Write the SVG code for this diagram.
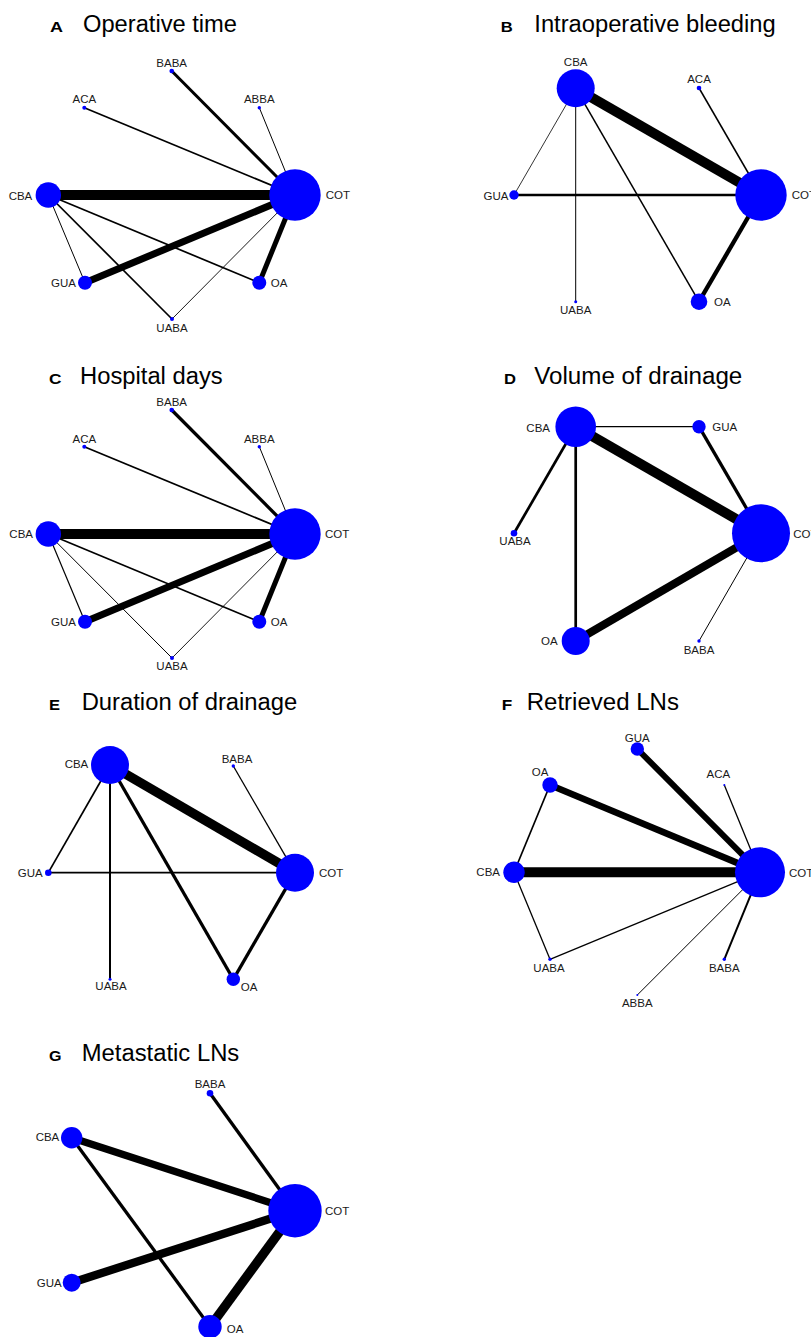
<svg xmlns="http://www.w3.org/2000/svg" width="811" height="1337" viewBox="0 0 811 1337">
<style>
.bg{fill:#ffffff}
.nd{fill:#0000ff}
.lb{font-family:"Liberation Sans",Arial,sans-serif;font-size:11.5px;fill:#1a1a1a}
.m{text-anchor:middle}
.e{text-anchor:end}
.ttl{font-family:"Liberation Sans",Arial,sans-serif;font-size:23.5px;fill:#000}
.let{font-family:"Liberation Sans",Arial,sans-serif;font-size:15px;font-weight:bold;fill:#000}
.cn line{stroke:#000;stroke-linecap:butt}
</style>
<rect class="bg" x="0" y="0" width="811" height="1337"/>

<!-- Panel A -->
<g id="panelA">
<text class="let" x="50" y="32" textLength="13" lengthAdjust="spacingAndGlyphs">A</text>
<text class="ttl" x="83" y="32" textLength="154" lengthAdjust="spacingAndGlyphs">Operative time</text>
<g id="A-connectors" class="cn">
<line x1="48.3" y1="195" x2="295" y2="195" stroke-width="10"/>
<line x1="85" y1="282.7" x2="295" y2="195" stroke-width="7"/>
<line x1="259.3" y1="282.7" x2="295" y2="195" stroke-width="5"/>
<line x1="171.7" y1="71" x2="295" y2="195" stroke-width="3"/>
<line x1="84.3" y1="107.7" x2="295" y2="195" stroke-width="1.7"/>
<line x1="259.3" y1="107.7" x2="295" y2="195" stroke-width="1"/>
<line x1="48.3" y1="195" x2="85" y2="282.7" stroke-width="1"/>
<line x1="48.3" y1="195" x2="172" y2="319" stroke-width="1.7"/>
<line x1="48.3" y1="195" x2="259.3" y2="282.7" stroke-width="1.7"/>
<line x1="172" y1="319" x2="295" y2="195" stroke-width="0.9"/>
</g>
<g id="A-BABA"><circle class="nd" cx="171.7" cy="71" r="2.3"/><text class="lb m" x="171.7" y="67">BABA</text></g>
<g id="A-ACA"><circle class="nd" cx="84.3" cy="107.7" r="2"/><text class="lb m" x="84.3" y="103">ACA</text></g>
<g id="A-ABBA"><circle class="nd" cx="259.3" cy="107.7" r="1.7"/><text class="lb m" x="259.3" y="103">ABBA</text></g>
<g id="A-CBA"><circle class="nd" cx="48.3" cy="195" r="12.7"/><text class="lb e" x="32.3" y="199.5">CBA</text></g>
<g id="A-COT"><circle class="nd" cx="295" cy="195" r="25.7"/><text class="lb" x="325.7" y="199">COT</text></g>
<g id="A-GUA"><circle class="nd" cx="85" cy="282.7" r="7"/><text class="lb e" x="76" y="287">GUA</text></g>
<g id="A-OA"><circle class="nd" cx="259.3" cy="282.7" r="7"/><text class="lb" x="270.7" y="287">OA</text></g>
<g id="A-UABA"><circle class="nd" cx="172" cy="319" r="2"/><text class="lb m" x="172" y="331.5">UABA</text></g>
</g>

<!-- Panel B -->
<g id="panelB">
<text class="let" x="500.7" y="32" textLength="12" lengthAdjust="spacingAndGlyphs">B</text>
<text class="ttl" x="534.3" y="32" textLength="241.4" lengthAdjust="spacingAndGlyphs">Intraoperative bleeding</text>
<g id="B-connectors" class="cn">
<line x1="575.7" y1="88.3" x2="761" y2="195" stroke-width="10"/>
<line x1="514" y1="195" x2="761" y2="195" stroke-width="2.7"/>
<line x1="699" y1="301.7" x2="761" y2="195" stroke-width="4.3"/>
<line x1="699" y1="88" x2="761" y2="195" stroke-width="1.5"/>
<line x1="575.7" y1="88.3" x2="514" y2="195" stroke-width="0.8"/>
<line x1="575.7" y1="88.3" x2="575.7" y2="301.7" stroke-width="1"/>
<line x1="575.7" y1="88.3" x2="699" y2="301.7" stroke-width="1.5"/>
</g>
<g id="B-CBA"><circle class="nd" cx="575.7" cy="88.3" r="19"/><text class="lb m" x="575.7" y="65.7">CBA</text></g>
<g id="B-ACA"><circle class="nd" cx="699" cy="88" r="2.3"/><text class="lb m" x="699" y="83">ACA</text></g>
<g id="B-GUA"><circle class="nd" cx="514" cy="195" r="4.7"/><text class="lb e" x="508.5" y="199.5">GUA</text></g>
<g id="B-COT"><circle class="nd" cx="761" cy="195" r="25.7"/><text class="lb" x="791.7" y="199">COT</text></g>
<g id="B-OA"><circle class="nd" cx="699" cy="301.7" r="8.3"/><text class="lb" x="714" y="306">OA</text></g>
<g id="B-UABA"><circle class="nd" cx="575.7" cy="301.7" r="1.5"/><text class="lb m" x="575.7" y="313.5">UABA</text></g>
</g>

<!-- Panel C -->
<g id="panelC">
<text class="let" x="49" y="383.5" textLength="12.5" lengthAdjust="spacingAndGlyphs">C</text>
<text class="ttl" x="80" y="383.5" textLength="142.7" lengthAdjust="spacingAndGlyphs">Hospital days</text>
<g id="C-connectors" class="cn">
<line x1="48.3" y1="534" x2="295" y2="534" stroke-width="10"/>
<line x1="85" y1="621.7" x2="295" y2="534" stroke-width="7"/>
<line x1="259.3" y1="621.7" x2="295" y2="534" stroke-width="5"/>
<line x1="171.7" y1="410" x2="295" y2="534" stroke-width="3.3"/>
<line x1="84.3" y1="446.7" x2="295" y2="534" stroke-width="1.7"/>
<line x1="259.3" y1="446.7" x2="295" y2="534" stroke-width="1"/>
<line x1="48.3" y1="534" x2="85" y2="621.7" stroke-width="1.2"/>
<line x1="48.3" y1="534" x2="172" y2="658" stroke-width="1"/>
<line x1="48.3" y1="534" x2="259.3" y2="621.7" stroke-width="1.7"/>
<line x1="172" y1="658" x2="295" y2="534" stroke-width="0.9"/>
</g>
<g id="C-BABA"><circle class="nd" cx="171.7" cy="410" r="2.3"/><text class="lb m" x="171.7" y="406">BABA</text></g>
<g id="C-ACA"><circle class="nd" cx="84.3" cy="446.7" r="2"/><text class="lb m" x="84.3" y="442.5">ACA</text></g>
<g id="C-ABBA"><circle class="nd" cx="259.3" cy="446.7" r="1.7"/><text class="lb m" x="259.3" y="442.5">ABBA</text></g>
<g id="C-CBA"><circle class="nd" cx="48.3" cy="534" r="12.7"/><text class="lb e" x="33" y="538">CBA</text></g>
<g id="C-COT"><circle class="nd" cx="295" cy="534" r="25.7"/><text class="lb" x="325" y="538">COT</text></g>
<g id="C-GUA"><circle class="nd" cx="85" cy="621.7" r="7"/><text class="lb e" x="76" y="626">GUA</text></g>
<g id="C-OA"><circle class="nd" cx="259.3" cy="621.7" r="7"/><text class="lb" x="270.7" y="626">OA</text></g>
<g id="C-UABA"><circle class="nd" cx="172" cy="658" r="2"/><text class="lb m" x="172" y="669.5">UABA</text></g>
</g>

<!-- Panel D -->
<g id="panelD">
<text class="let" x="504" y="383.5" textLength="12" lengthAdjust="spacingAndGlyphs">D</text>
<text class="ttl" x="534.3" y="383.5" textLength="208" lengthAdjust="spacingAndGlyphs">Volume of drainage</text>
<g id="D-connectors" class="cn">
<line x1="575.7" y1="426.7" x2="761" y2="533.3" stroke-width="10"/>
<line x1="575.7" y1="641" x2="761" y2="533.3" stroke-width="8"/>
<line x1="699" y1="426.7" x2="761" y2="533.3" stroke-width="3.3"/>
<line x1="575.7" y1="426.7" x2="514" y2="533.3" stroke-width="2.7"/>
<line x1="575.7" y1="426.7" x2="575.7" y2="641" stroke-width="2.7"/>
<line x1="575.7" y1="426.7" x2="699" y2="426.7" stroke-width="1.3"/>
<line x1="699" y1="641" x2="761" y2="533.3" stroke-width="1"/>
</g>
<g id="D-CBA"><circle class="nd" cx="575.7" cy="426.7" r="20.3"/><text class="lb e" x="550" y="432">CBA</text></g>
<g id="D-GUA"><circle class="nd" cx="699" cy="426.7" r="6.7"/><text class="lb" x="712.3" y="431">GUA</text></g>
<g id="D-UABA"><circle class="nd" cx="514" cy="533.3" r="3.3"/><text class="lb m" x="515" y="545">UABA</text></g>
<g id="D-COT"><circle class="nd" cx="761" cy="533.3" r="29"/><text class="lb" x="793.3" y="538">COT</text></g>
<g id="D-OA"><circle class="nd" cx="575.7" cy="641" r="14"/><text class="lb e" x="557.7" y="645">OA</text></g>
<g id="D-BABA"><circle class="nd" cx="699" cy="641" r="1.7"/><text class="lb m" x="699" y="653.5">BABA</text></g>
</g>

<!-- Panel E -->
<g id="panelE">
<text class="let" x="49" y="709.5" textLength="11" lengthAdjust="spacingAndGlyphs">E</text>
<text class="ttl" x="81.7" y="709.5" textLength="215.6" lengthAdjust="spacingAndGlyphs">Duration of drainage</text>
<g id="E-connectors" class="cn">
<line x1="110" y1="765" x2="295" y2="872.7" stroke-width="9.5"/>
<line x1="110" y1="765" x2="233.3" y2="979.3" stroke-width="3.3"/>
<line x1="233.3" y1="979.3" x2="295" y2="872.7" stroke-width="3.3"/>
<line x1="110" y1="765" x2="48.3" y2="872.7" stroke-width="1.7"/>
<line x1="110" y1="765" x2="110" y2="979.3" stroke-width="2"/>
<line x1="48.3" y1="872.7" x2="295" y2="872.7" stroke-width="1.7"/>
<line x1="233.3" y1="766" x2="295" y2="872.7" stroke-width="1.3"/>
</g>
<g id="E-CBA"><circle class="nd" cx="110" cy="765" r="19"/><text class="lb e" x="88.3" y="767.5">CBA</text></g>
<g id="E-BABA"><circle class="nd" cx="233.3" cy="766" r="1.7"/><text class="lb m" x="237" y="763.3">BABA</text></g>
<g id="E-GUA"><circle class="nd" cx="48.3" cy="872.7" r="3.3"/><text class="lb e" x="42.7" y="877">GUA</text></g>
<g id="E-COT"><circle class="nd" cx="295" cy="872.7" r="19"/><text class="lb" x="319" y="877">COT</text></g>
<g id="E-UABA"><circle class="nd" cx="110" cy="979.3" r="1.5"/><text class="lb m" x="111" y="990">UABA</text></g>
<g id="E-OA"><circle class="nd" cx="233.3" cy="979.3" r="6.7"/><text class="lb" x="240.7" y="990.7">OA</text></g>
</g>

<!-- Panel F -->
<g id="panelF">
<text class="let" x="501.7" y="709.5" textLength="10.5" lengthAdjust="spacingAndGlyphs">F</text>
<text class="ttl" x="526.7" y="709.5" textLength="152.3" lengthAdjust="spacingAndGlyphs">Retrieved LNs</text>
<g id="F-connectors" class="cn">
<line x1="514" y1="872.3" x2="760" y2="872.3" stroke-width="10"/>
<line x1="550" y1="785" x2="760" y2="872.3" stroke-width="6.7"/>
<line x1="637.3" y1="749" x2="760" y2="872.3" stroke-width="6"/>
<line x1="724.3" y1="785" x2="760" y2="872.3" stroke-width="1.3"/>
<line x1="724.3" y1="959.3" x2="760" y2="872.3" stroke-width="2"/>
<line x1="637.3" y1="995" x2="760" y2="872.3" stroke-width="1"/>
<line x1="550" y1="959.3" x2="760" y2="872.3" stroke-width="1.3"/>
<line x1="514" y1="872.3" x2="550" y2="785" stroke-width="1.7"/>
<line x1="514" y1="872.3" x2="550" y2="959.3" stroke-width="1.3"/>
</g>
<g id="F-GUA"><circle class="nd" cx="637.3" cy="749" r="6.7"/><text class="lb m" x="637.3" y="741.7">GUA</text></g>
<g id="F-OA"><circle class="nd" cx="550" cy="785" r="7.7"/><text class="lb m" x="540" y="776">OA</text></g>
<g id="F-ACA"><circle class="nd" cx="724.3" cy="785" r="1"/><text class="lb m" x="718.3" y="778">ACA</text></g>
<g id="F-CBA"><circle class="nd" cx="514" cy="872.3" r="10.7"/><text class="lb e" x="500" y="876">CBA</text></g>
<g id="F-COT"><circle class="nd" cx="760" cy="872.3" r="25"/><text class="lb" x="789" y="877">COT</text></g>
<g id="F-UABA"><circle class="nd" cx="550" cy="959.3" r="1.7"/><text class="lb m" x="549" y="971.7">UABA</text></g>
<g id="F-BABA"><circle class="nd" cx="724.3" cy="959.3" r="1.7"/><text class="lb m" x="724.3" y="971.7">BABA</text></g>
<g id="F-ABBA"><circle class="nd" cx="637.3" cy="995" r="1"/><text class="lb m" x="637.3" y="1006.7">ABBA</text></g>
</g>

<!-- Panel G -->
<g id="panelG">
<text class="let" x="49" y="1061" textLength="12.5" lengthAdjust="spacingAndGlyphs">G</text>
<text class="ttl" x="81.7" y="1061" textLength="157.6" lengthAdjust="spacingAndGlyphs">Metastatic LNs</text>
<g id="G-connectors" class="cn">
<line x1="71.7" y1="1137.7" x2="295" y2="1210.7" stroke-width="7.3"/>
<line x1="71.7" y1="1282.7" x2="295" y2="1210.7" stroke-width="8.3"/>
<line x1="210" y1="1326.7" x2="295" y2="1210.7" stroke-width="9.3"/>
<line x1="210" y1="1093.3" x2="295" y2="1210.7" stroke-width="3.3"/>
<line x1="71.7" y1="1137.7" x2="210" y2="1326.7" stroke-width="3.3"/>
</g>
<g id="G-BABA"><circle class="nd" cx="210" cy="1093.3" r="3.3"/><text class="lb m" x="210" y="1088.3">BABA</text></g>
<g id="G-CBA"><circle class="nd" cx="71.7" cy="1137.7" r="10.7"/><text class="lb e" x="59.3" y="1141">CBA</text></g>
<g id="G-COT"><circle class="nd" cx="295" cy="1210.7" r="26.7"/><text class="lb" x="325" y="1214.7">COT</text></g>
<g id="G-GUA"><circle class="nd" cx="71.7" cy="1282.7" r="9"/><text class="lb e" x="61.7" y="1286.5">GUA</text></g>
<g id="G-OA"><circle class="nd" cx="210" cy="1326.7" r="11.7"/><text class="lb" x="226.7" y="1333">OA</text></g>
</g>
</svg>
